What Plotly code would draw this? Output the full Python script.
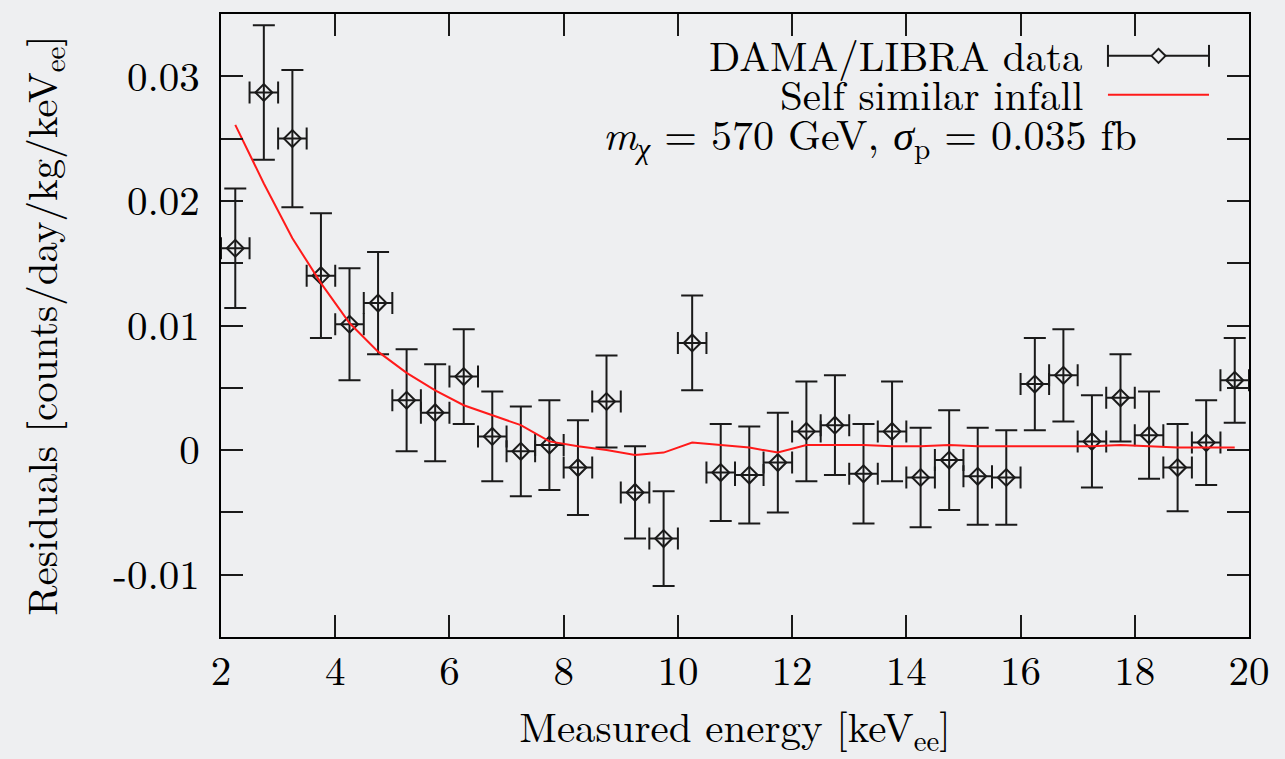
import plotly.graph_objects as go

# Annual-modulation residuals, 0.5 keV bins from 2 to 20 keVee
energy = [2.25, 2.75, 3.25, 3.75, 4.25, 4.75, 5.25, 5.75, 6.25, 6.75, 7.25, 7.75,
          8.25, 8.75, 9.25, 9.75, 10.25, 10.75, 11.25, 11.75, 12.25, 12.75, 13.25, 13.75,
          14.25, 14.75, 15.25, 15.75, 16.25, 16.75, 17.25, 17.75, 18.25, 18.75, 19.25, 19.75]
bin_halfwidth = [0.25] * len(energy)

residuals = [0.0162, 0.0287, 0.0250, 0.0140, 0.0101, 0.0118, 0.0040, 0.0030, 0.0059,
             0.0011, -0.0001, 0.0004, -0.0014, 0.0039, -0.0034, -0.0071, 0.0086, -0.0018,
             -0.0020, -0.0010, 0.0015, 0.0020, -0.0019, 0.0015, -0.0022, -0.0008, -0.0021,
             -0.0022, 0.0053, 0.0060, 0.0007, 0.0042, 0.0012, -0.0014, 0.0006, 0.0056]

residual_err = [0.0048, 0.0054, 0.0055, 0.0050, 0.0045, 0.0041, 0.0041, 0.0039, 0.0038,
                0.0036, 0.0036, 0.0036, 0.0038, 0.0037, 0.0037, 0.0038, 0.0038, 0.0039,
                0.0039, 0.0040, 0.0040, 0.0040, 0.0040, 0.0040, 0.0040, 0.0040, 0.0039,
                0.0038, 0.0037, 0.0037, 0.0037, 0.0035, 0.0035, 0.0035, 0.0034, 0.0034]

# Self-similar infall prediction at the bin centres
infall_model = [0.0261, 0.0214, 0.0170, 0.0134, 0.0102, 0.0079, 0.0062, 0.0048, 0.0036,
                0.0028, 0.0020, 0.0007, 0.0003, 0.0000, -0.0004, -0.0002, 0.0006, 0.0004,
                0.0002, -0.0002, 0.0004, 0.0004, 0.0004, 0.0003, 0.0003, 0.0004, 0.0003,
                0.0003, 0.0003, 0.0003, 0.0003, 0.0004, 0.0003, 0.0002, 0.0002, 0.0002]

x_ticks = [2, 4, 6, 8, 10, 12, 14, 16, 18, 20]
y_ticks = [-0.01, 0, 0.01, 0.02, 0.03]
y_tick_text = ["-0.01", "0", "0.01", "0.02", "0.03"]

FONT = "Latin Modern Roman"
BG = "#eeeff1"
INK = "#1a1a1a"
SIZE = 41

fig = go.Figure()

fig.add_trace(go.Scatter(
    x=energy, y=residuals, mode="markers", name="DAMA/LIBRA data",
    marker=dict(symbol="diamond-open", size=13, color=INK, line=dict(width=2, color=INK)),
    error_y=dict(type="data", array=residual_err, visible=True, color=INK,
                 thickness=2, width=11),
    error_x=dict(type="data", array=bin_halfwidth, visible=True, color=INK,
                 thickness=2, width=11),
    showlegend=False,
))

fig.add_trace(go.Scatter(
    x=energy, y=infall_model, mode="lines", name="Self similar infall",
    line=dict(color="#ff1a1a", width=2),
    showlegend=False,
))

# Key in the upper right: label on the left, sample on the right
key_x0, key_x1 = 0.8628, 0.9611
key_mid = (key_x0 + key_x1) / 2
row1, row2 = 0.9328, 0.8704
cap_h = 0.0176
dx, dy = 0.0068, 0.0112
shapes = [
    dict(type="line", xref="paper", yref="paper", x0=key_x0, x1=key_x1, y0=row1, y1=row1,
         line=dict(color=INK, width=2)),
    dict(type="line", xref="paper", yref="paper", x0=key_x0, x1=key_x0,
         y0=row1 - cap_h, y1=row1 + cap_h, line=dict(color=INK, width=2)),
    dict(type="line", xref="paper", yref="paper", x0=key_x1, x1=key_x1,
         y0=row1 - cap_h, y1=row1 + cap_h, line=dict(color=INK, width=2)),
    dict(type="path", xref="paper", yref="paper",
         path=f"M {key_mid - dx},{row1} L {key_mid},{row1 + dy} L {key_mid + dx},{row1} "
              f"L {key_mid},{row1 - dy} Z",
         fillcolor=BG, line=dict(color=INK, width=2)),
    dict(type="line", xref="paper", yref="paper", x0=key_x0, x1=key_x1, y0=row2, y1=row2,
         line=dict(color="#ff1a1a", width=2)),
]

annotations = [
    dict(text="DAMA/LIBRA data", xref="paper", yref="paper", x=0.8404, y=row1 + 0.003,
         xanchor="right", yanchor="middle", showarrow=False,
         font=dict(family=FONT, size=SIZE, color="black")),
    dict(text="Self similar infall", xref="paper", yref="paper", x=0.8404, y=row2 + 0.003,
         xanchor="right", yanchor="middle", showarrow=False,
         font=dict(family=FONT, size=SIZE, color="black")),
    dict(text="<i>m</i><sub><i>χ</i></sub> = 570 GeV, <i>σ</i><sub>p</sub> = 0.035 fb",
         xref="paper", yref="paper", x=0.631, y=0.805,
         xanchor="center", yanchor="middle", showarrow=False,
         font=dict(family=FONT, size=SIZE + 1, color="black")),
    # y-axis title, placed beside the tick labels
    dict(text="Residuals [counts/day/kg/keV<sub>ee</sub>]", xref="paper", yref="paper",
         x=-0.174, y=0.5, xanchor="center", yanchor="middle", textangle=-90,
         showarrow=False, font=dict(family=FONT, size=SIZE, color="black")),
]

fig.update_layout(
    width=1285, height=759, autosize=False,
    margin=dict(l=221, r=36, t=12, b=122),
    paper_bgcolor=BG, plot_bgcolor=BG,
    font=dict(family=FONT, size=SIZE, color="black"),
    shapes=shapes, annotations=annotations,
)

fig.update_xaxes(
    range=[2, 20], tickmode="array", tickvals=x_ticks,
    ticks="inside", ticklen=22, tickwidth=1.5, tickcolor=INK,
    showline=True, linecolor="black", linewidth=2, mirror="ticks",
    showgrid=False, zeroline=False, ticklabelstandoff=-3,
    tickfont=dict(family=FONT, size=SIZE),
    title=dict(text="Measured energy [keV<sub>ee</sub>]", font=dict(family=FONT, size=SIZE),
               standoff=8),
)
fig.update_yaxes(
    range=[-0.015, 0.035], tickmode="array", tickvals=y_ticks, ticktext=y_tick_text,
    ticks="inside", ticklen=22, tickwidth=1.5, tickcolor=INK,
    minor=dict(dtick=0.005, tick0=0, ticks="inside", ticklen=22, tickwidth=1.5,
               tickcolor=INK, showgrid=False),
    showline=True, linecolor="black", linewidth=2, mirror="ticks",
    showgrid=False, zeroline=False, ticklabelstandoff=11,
    tickfont=dict(family=FONT, size=SIZE),
)

fig.write_html("out.html")
